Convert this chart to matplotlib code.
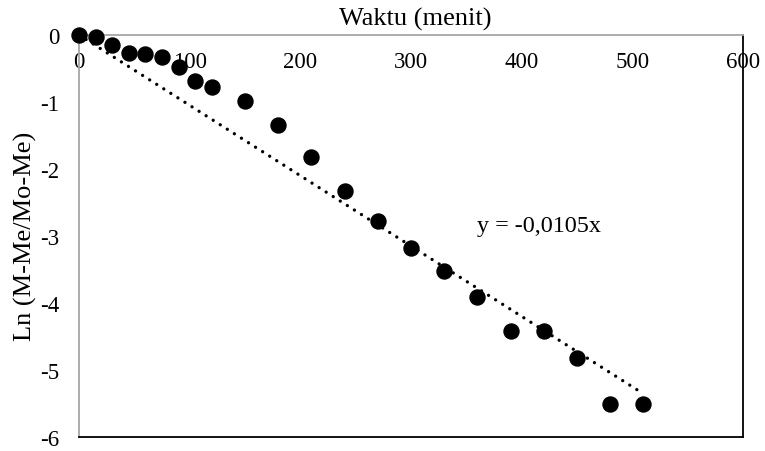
import numpy as np
import matplotlib
matplotlib.use("Agg")
import matplotlib.pyplot as plt

## data
waktu = [0, 15, 30, 45, 60, 75, 90, 105, 120, 150, 180, 210, 240, 270,
         300, 330, 360, 390, 420, 450, 480, 510]
ln_mr = [0.0, -0.03, -0.15, -0.27, -0.28, -0.33, -0.48, -0.69, -0.78, -0.99,
         -1.34, -1.82, -2.33, -2.78, -3.18, -3.52, -3.91, -4.42, -4.42,
         -4.82, -5.51, -5.51]
slope = -0.0105
x_ticks = [0, 100, 200, 300, 400, 500, 600]
y_ticks = [0, -1, -2, -3, -4, -5, -6]

plt.rcParams['font.family'] = ['Liberation Serif', 'DejaVu Serif']

fig = plt.figure(figsize=(7.65, 4.52), dpi=100)
ax = fig.add_axes([0.1033, 0.031, 0.8679, 0.8894])

## trend line through origin
xt = np.array([0, max(waktu)])
ax.plot(xt, slope * xt, color='black', linewidth=2.4,
        linestyle=(0, (0.01, 2.5)), dash_capstyle='round', zorder=2)
ax.plot(waktu, ln_mr, 'o', color='black', markersize=10.8, zorder=3,
        clip_on=False)

ax.set_xlim(0, 600)
ax.set_ylim(-6, 0)
ax.set_xticks(x_ticks)
ax.set_yticks(y_ticks)
ax.set_xticklabels([str(v) for v in x_ticks])
ax.set_yticklabels([str(v) for v in y_ticks])

ax.xaxis.set_ticks_position('top')
ax.tick_params(axis='x', length=0, labelsize=16.5, labeltop=True,
               labelbottom=False, pad=-27)
ax.tick_params(axis='y', length=0, labelsize=16.5, pad=14)

grey = '#a6a6a6'
ax.spines['top'].set_color(grey)
ax.spines['left'].set_color(grey)
ax.spines['bottom'].set_color('black')
ax.spines['right'].set_color('black')
for s in ax.spines.values():
    s.set_linewidth(1.3)

ax.text(360, -2.85, 'y = -0,0105x', fontsize=17.4, ha='left', va='center')

fig.text(415 / 765, 1 - 19 / 452, 'Waktu (menit)', fontsize=19,
         ha='center', va='center')
fig.text(25 / 765, 1 - 236 / 452, 'Ln (M-Me/Mo-Me)', fontsize=19,
         ha='center', va='center', rotation=90)

fig.savefig("out.png", dpi=100)
